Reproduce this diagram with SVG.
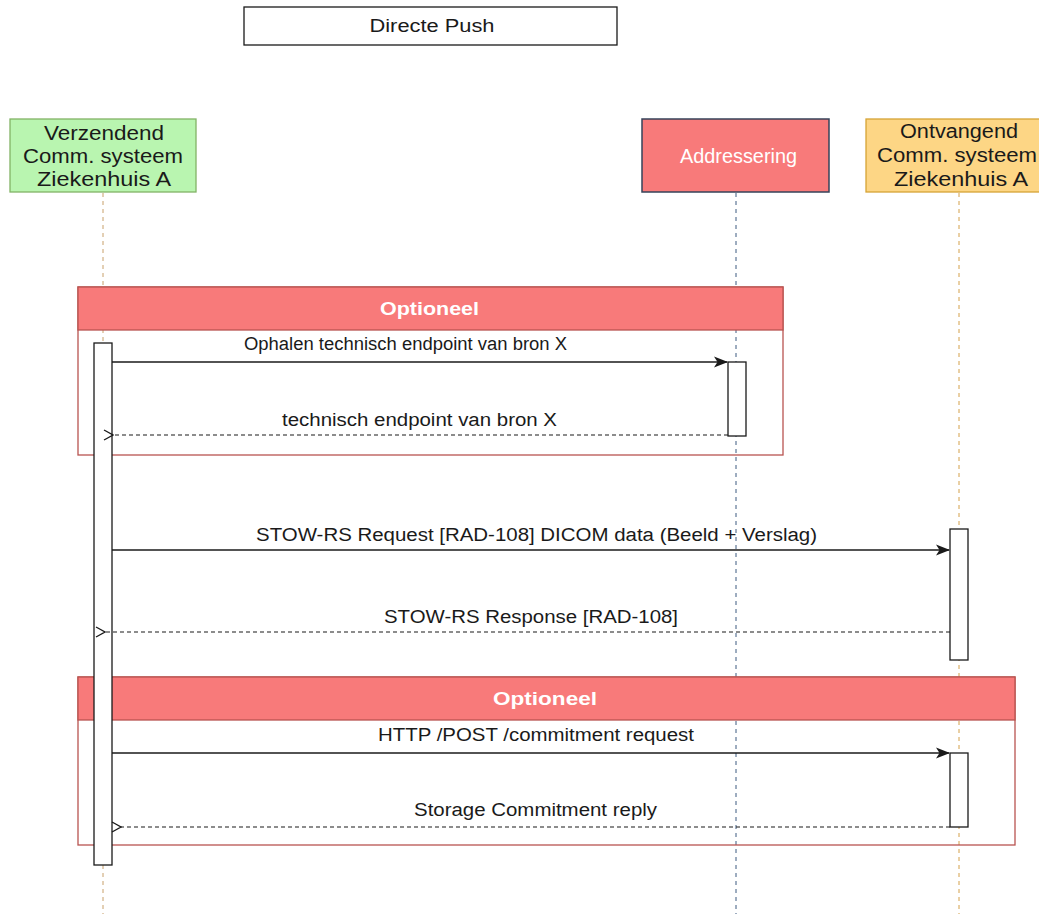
<svg xmlns="http://www.w3.org/2000/svg" width="1039" height="914" viewBox="0 0 1039 914">
  <style>
    text { font-family: "Liberation Sans", Arial, Helvetica, sans-serif; fill: #1a1a1a; }
    .lbl { font-size: 18px; text-anchor: middle; }
    .node { font-size: 20px; text-anchor: middle; }
    .life { fill: none; stroke-width: 1; stroke-dasharray: 4 4; }
    .act { fill: #ffffff; stroke: #1a1a1a; stroke-width: 1.3; }
    .frame { fill: none; stroke: #b85450; stroke-width: 1.3; }
    .fhead { fill: #f87a7a; stroke: #b85450; stroke-width: 1.3; }
    .ftitle { font-size: 19px; font-weight: bold; text-anchor: middle; fill: #ffffff; }
    .msg { fill: none; stroke: #1a1a1a; stroke-width: 1.5; }
    .ret { fill: none; stroke: #1a1a1a; stroke-width: 1.2; stroke-dasharray: 4 3; }
  </style>
  <defs>
    <marker id="arrowFilled" viewBox="0 0 14 12" refX="13" refY="6" markerWidth="14" markerHeight="12" markerUnits="userSpaceOnUse" orient="auto">
      <path d="M0,0.5 L14,6 L0,11.5 L3.5,6 Z" fill="#1a1a1a"/>
    </marker>
    <marker id="arrowOpen" viewBox="0 0 12 12" refX="1" refY="6" markerWidth="12" markerHeight="12" markerUnits="userSpaceOnUse" orient="auto">
      <path d="M10,1 L1,6 L10,11" fill="none" stroke="#1a1a1a" stroke-width="1.3"/>
    </marker>
  </defs>

  <rect width="1039" height="914" fill="#ffffff"/>

  <!-- Title -->
  <g id="title">
    <rect x="244" y="7" width="373" height="38" fill="#ffffff" stroke="#1a1a1a" stroke-width="1.3"/>
    <text class="lbl" x="432" y="32" textLength="125" lengthAdjust="spacingAndGlyphs">Directe Push</text>
  </g>

  <!-- Lifelines -->
  <g id="lifelines">
    <line class="life" x1="103" y1="193" x2="103" y2="914" stroke="#c8a06a"/>
    <line class="life" x1="736" y1="193" x2="736" y2="914" stroke="#3d5a80"/>
    <line class="life" x1="959" y1="193" x2="959" y2="914" stroke="#d4a04a"/>
  </g>

  <!-- Participants -->
  <g id="sender">
    <rect x="10" y="119" width="186" height="73" fill="#b9f5b0" stroke="#82b366" stroke-width="1.3"/>
    <text class="node" x="104" y="140" textLength="120" lengthAdjust="spacingAndGlyphs">Verzendend</text>
    <text class="node" x="103" y="163" textLength="160" lengthAdjust="spacingAndGlyphs">Comm. systeem</text>
    <text class="node" x="104" y="186" textLength="134" lengthAdjust="spacingAndGlyphs">Ziekenhuis A</text>
  </g>
  <g id="addressering">
    <rect x="642" y="119" width="187" height="73" fill="#f87a7a" stroke="#36435a" stroke-width="1.5"/>
    <text class="node" x="738.5" y="163" textLength="117" lengthAdjust="spacingAndGlyphs" style="fill:#ffffff">Addressering</text>
  </g>
  <g id="receiver">
    <rect x="866" y="119" width="180" height="73" fill="#fdd685" stroke="#d6a436" stroke-width="1.3"/>
    <text class="node" x="959" y="138" textLength="118" lengthAdjust="spacingAndGlyphs">Ontvangend</text>
    <text class="node" x="957" y="162" textLength="160" lengthAdjust="spacingAndGlyphs">Comm. systeem</text>
    <text class="node" x="961" y="186" textLength="134" lengthAdjust="spacingAndGlyphs">Ziekenhuis A</text>
  </g>

  <!-- Optional fragment 1 -->
  <g id="frame-optioneel-1">
    <rect class="frame" x="78" y="287" width="705" height="168"/>
    <rect class="fhead" x="78" y="287" width="705" height="43"/>
    <text class="ftitle" x="429.5" y="315" textLength="99" lengthAdjust="spacingAndGlyphs">Optioneel</text>
  </g>

  <!-- Optional fragment 2 -->
  <g id="frame-optioneel-2">
    <rect class="frame" x="78" y="677" width="937" height="168"/>
    <rect class="fhead" x="78" y="677" width="937" height="43"/>
    <text class="ftitle" x="545" y="705" textLength="104" lengthAdjust="spacingAndGlyphs">Optioneel</text>
  </g>

  <!-- Activation bars -->
  <g id="activations">
    <rect class="act" x="94" y="343" width="18" height="522"/>
    <rect class="act" x="728" y="362" width="18" height="74"/>
    <rect class="act" x="950" y="529" width="18" height="131"/>
    <rect class="act" x="950" y="753" width="18" height="74"/>
  </g>

  <!-- Messages -->
  <g id="connectors">
    <line class="msg" x1="112" y1="362" x2="727" y2="362" marker-end="url(#arrowFilled)"/>
    <text class="lbl" x="405.5" y="350" textLength="323" lengthAdjust="spacingAndGlyphs">Ophalen technisch endpoint van bron X</text>

    <line class="ret" x1="728" y1="435" x2="113" y2="435" marker-end="url(#arrowOpen)"/>
    <text class="lbl" x="419.5" y="426" textLength="275" lengthAdjust="spacingAndGlyphs">technisch endpoint van bron X</text>

    <line class="msg" x1="112" y1="550" x2="949" y2="550" marker-end="url(#arrowFilled)"/>
    <text class="lbl" x="536.5" y="541" textLength="561" lengthAdjust="spacingAndGlyphs">STOW-RS Request [RAD-108] DICOM data (Beeld + Verslag)</text>

    <line class="ret" x1="950" y1="632" x2="105" y2="632" marker-end="url(#arrowOpen)"/>
    <text class="lbl" x="531" y="623" textLength="294" lengthAdjust="spacingAndGlyphs">STOW-RS Response [RAD-108]</text>

    <line class="msg" x1="112" y1="753" x2="949" y2="753" marker-end="url(#arrowFilled)"/>
    <text class="lbl" x="536" y="741" textLength="316" lengthAdjust="spacingAndGlyphs">HTTP /POST /commitment request</text>

    <line class="ret" x1="950" y1="827" x2="121" y2="827" marker-end="url(#arrowOpen)"/>
    <text class="lbl" x="535.5" y="816" textLength="243" lengthAdjust="spacingAndGlyphs">Storage Commitment reply</text>
  </g>
</svg>
